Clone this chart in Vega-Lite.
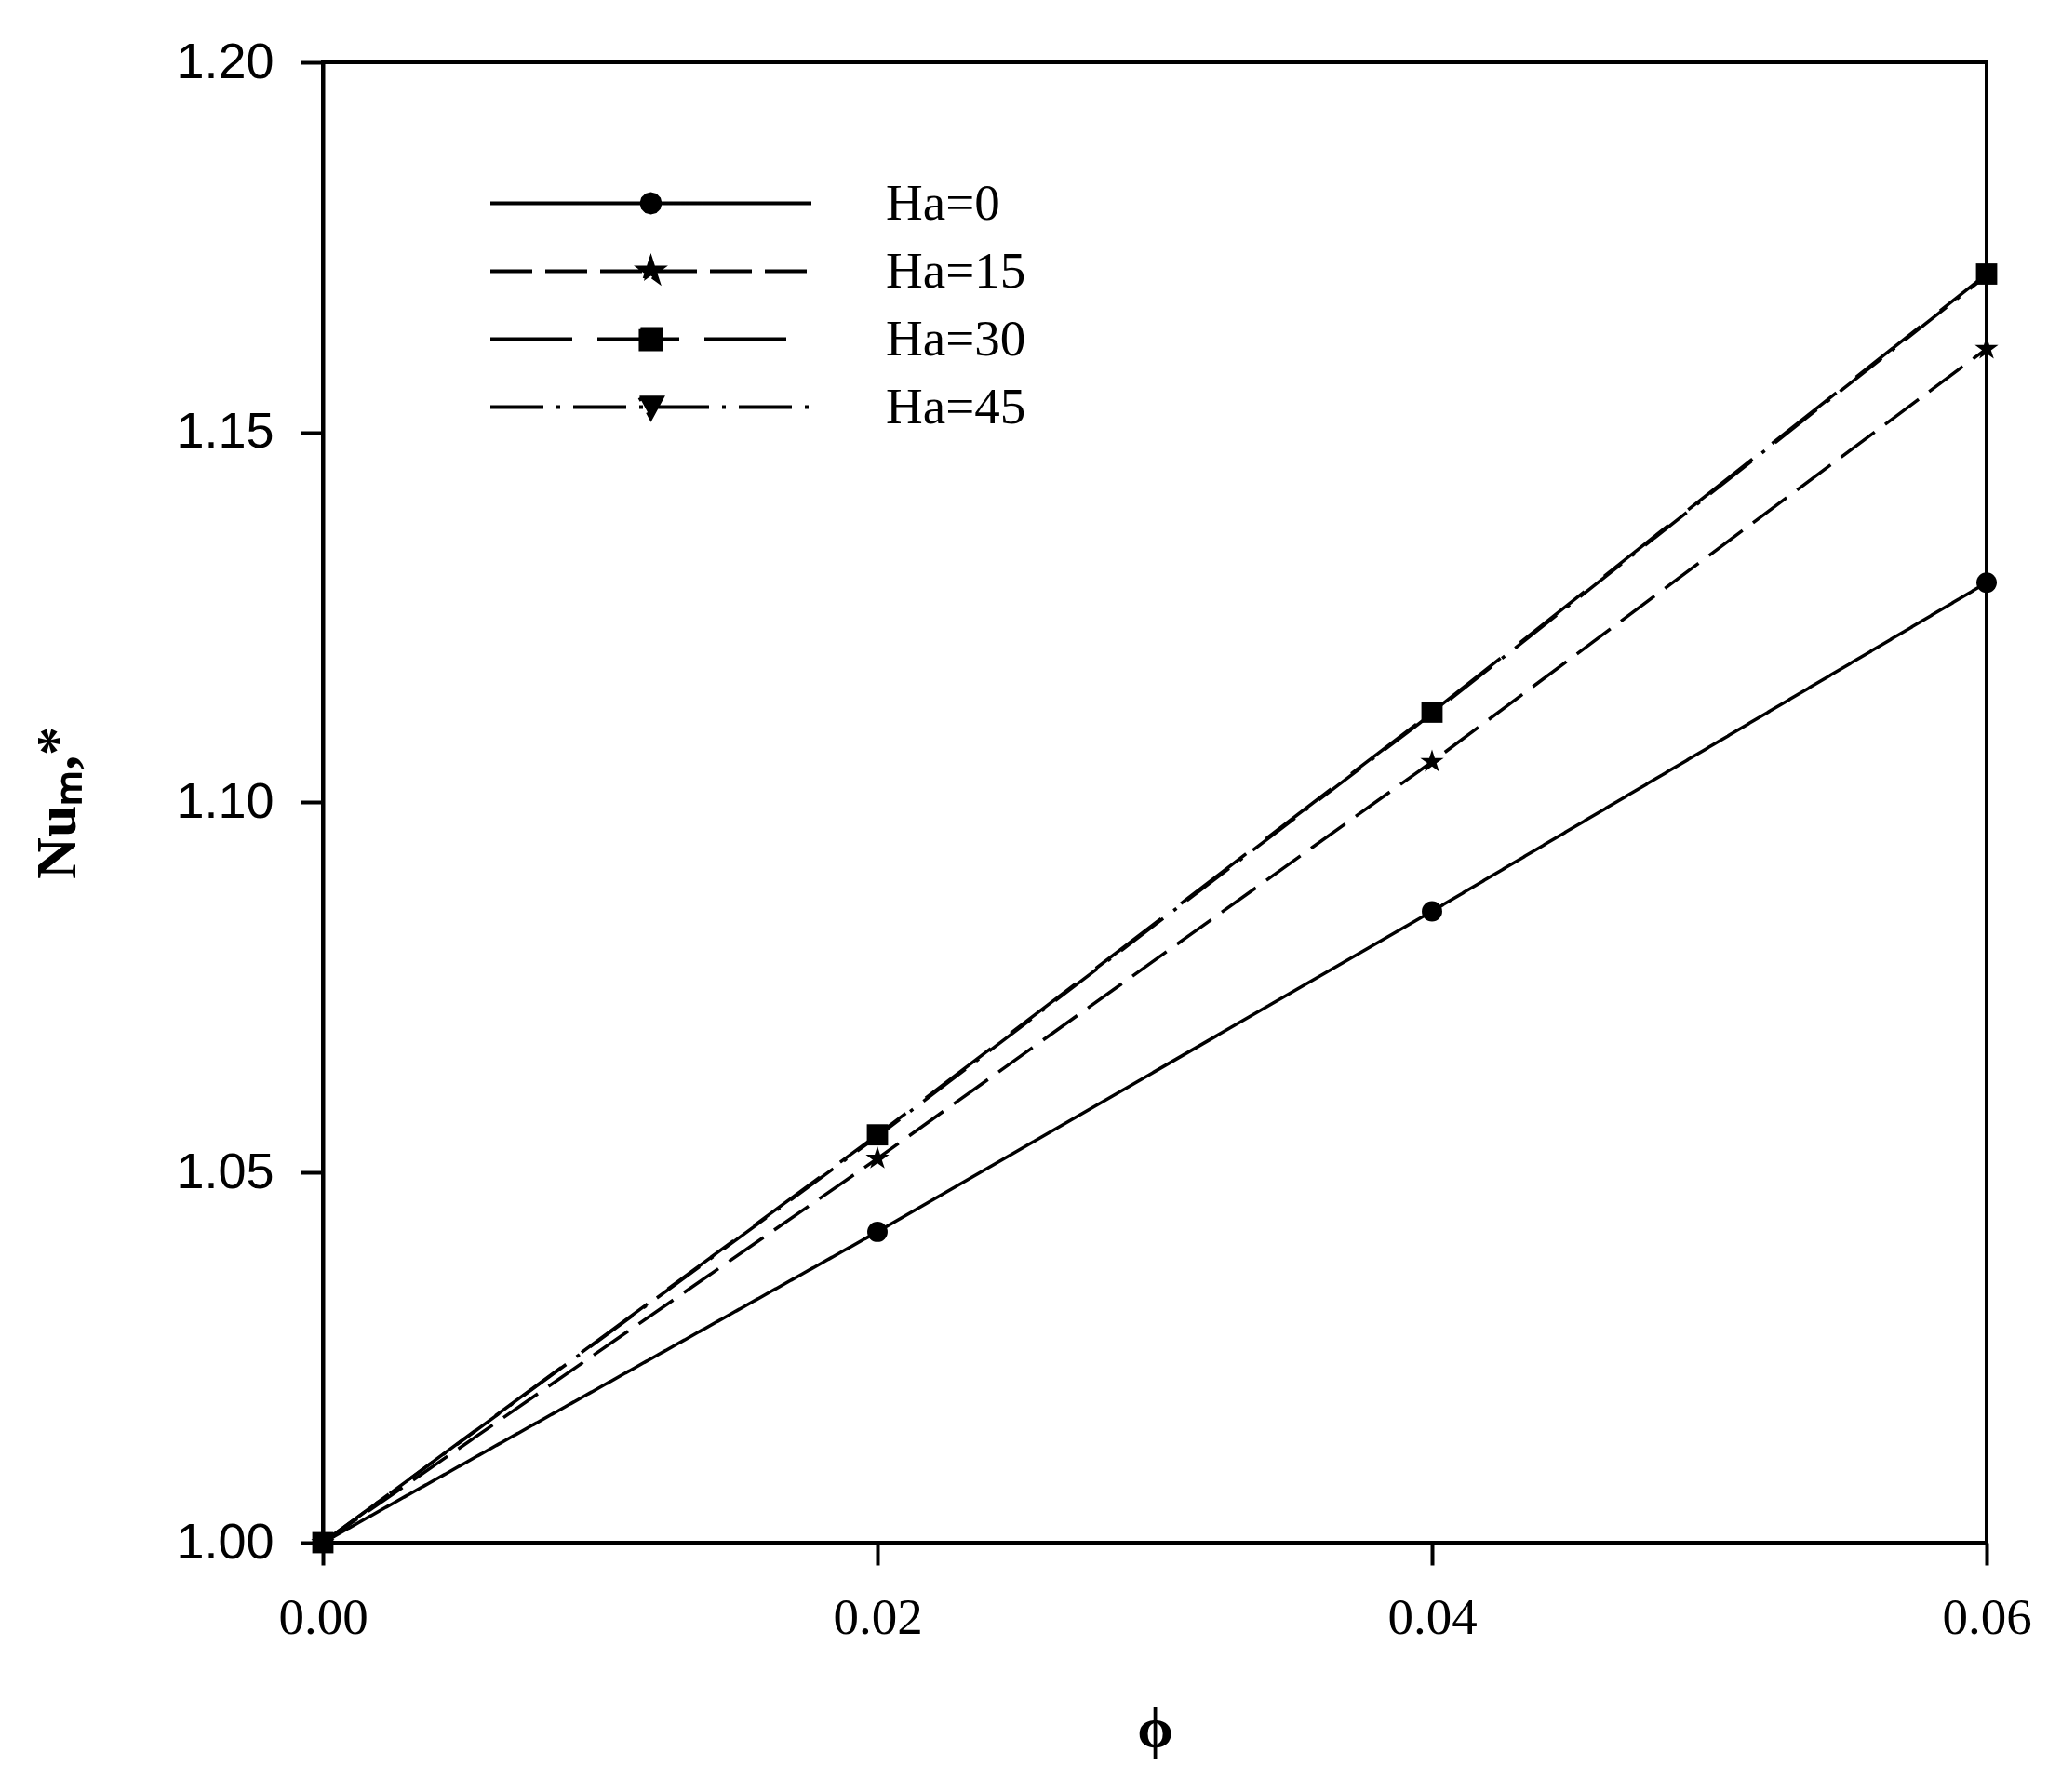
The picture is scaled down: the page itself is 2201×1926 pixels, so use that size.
{
  "$schema": "https://vega.github.io/schema/vega-lite/v6.json",
  "autosize": {"type": "none"},
  "width": 1788,
  "height": 1591,
  "padding": {"left": 347, "top": 67, "right": 66, "bottom": 268},
  "background": "white",
  "config": {
    "view": {"stroke": "black", "strokeWidth": 4},
    "axis": {
      "domainColor": "black", "domainWidth": 4,
      "tickColor": "black", "tickWidth": 4, "tickSize": 24,
      "grid": false, "labelColor": "black", "titleColor": "black"
    }
  },
  "data": {"values": [
    {"series": "Ha=45", "phi": 0.00, "nu": 1.000},
    {"series": "Ha=45", "phi": 0.02, "nu": 1.0549},
    {"series": "Ha=45", "phi": 0.04, "nu": 1.1120},
    {"series": "Ha=45", "phi": 0.06, "nu": 1.1712},
    {"series": "Ha=0", "phi": 0.00, "nu": 1.000},
    {"series": "Ha=0", "phi": 0.02, "nu": 1.0420},
    {"series": "Ha=0", "phi": 0.04, "nu": 1.0853},
    {"series": "Ha=0", "phi": 0.06, "nu": 1.1297},
    {"series": "Ha=15", "phi": 0.00, "nu": 1.000},
    {"series": "Ha=15", "phi": 0.02, "nu": 1.0519},
    {"series": "Ha=15", "phi": 0.04, "nu": 1.1055},
    {"series": "Ha=15", "phi": 0.06, "nu": 1.1613},
    {"series": "Ha=30", "phi": 0.00, "nu": 1.000},
    {"series": "Ha=30", "phi": 0.02, "nu": 1.0551},
    {"series": "Ha=30", "phi": 0.04, "nu": 1.1122},
    {"series": "Ha=30", "phi": 0.06, "nu": 1.1714}
  ]},
  "encoding": {
    "x": {
      "field": "phi", "type": "quantitative",
      "scale": {"domain": [0, 0.06], "nice": false, "zero": false},
      "axis": {
        "values": [0, 0.02, 0.04, 0.06], "format": ".2f",
        "labelFont": "Liberation Serif", "labelFontSize": 55, "labelPadding": 30,
        "labelFlush": false,
        "title": "ϕ", "titleFont": "Liberation Serif", "titleFontWeight": "bold",
        "titleFontSize": 62, "titlePadding": 62
      }
    },
    "y": {
      "field": "nu", "type": "quantitative",
      "scale": {"domain": [1.0, 1.2], "nice": false, "zero": false},
      "axis": {
        "values": [1.0, 1.05, 1.1, 1.15, 1.2], "format": ".2f",
        "labelFont": "Liberation Sans", "labelFontSize": 54, "labelPadding": 29,
        "labelFlush": false,
        "title": "Nuₘ,*", "titleFont": "Liberation Serif", "titleFontWeight": "bold",
        "titleFontSize": 62, "titlePadding": 95
      }
    }
  },
  "layer": [
    {
      "mark": {"type": "line", "color": "black", "strokeWidth": 3.5},
      "encoding": {
        "detail": {"field": "series"},
        "strokeDash": {
          "field": "series", "type": "nominal",
          "scale": {
            "domain": ["Ha=0", "Ha=15", "Ha=30", "Ha=45"],
            "range": [[1, 0], [45, 14], [88, 27], [57, 14, 4, 14]]
          },
          "legend": {
            "title": null,
            "orient": "none",
            "legendX": 178,
            "legendY": 115,
            "padding": 0,
            "rowPadding": 0,
            "clipHeight": 73,
            "symbolSize": 119025,
            "symbolStrokeWidth": 4,
            "symbolStrokeColor": "black",
            "symbolFillColor": "black",
            "symbolOpacity": 1,
            "labelOffset": 78,
            "labelFont": "Liberation Serif",
            "labelFontSize": 55,
            "labelColor": "black",
            "labelLimit": 0,
            "encoding": {
              "symbols": {
                "shape": {"value": {"expr": "datum.value == 'Ha=0' ? 'M-1,0H1M0.058,0L0.0502,0.029L0.029,0.0502L0,0.058L-0.029,0.0502L-0.0502,0.029L-0.058,0L-0.0502,-0.029L-0.029,-0.0502L0,-0.058L0.029,-0.0502L0.0502,-0.029Z' : datum.value == 'Ha=15' ? 'M-1,0H1M0,-0.075L0.0169,-0.0232L0.0713,-0.0232L0.0273,0.0089L0.0441,0.0607L0,0.0287L-0.0441,0.0607L-0.0273,0.0089L-0.0713,-0.0232L-0.0169,-0.0232Z' : datum.value == 'Ha=30' ? 'M-1,0H1M-0.064,-0.064H0.064V0.064H-0.064Z' : 'M-1,0H1M-0.07,-0.06H0.07L0,0.07Z'"}},
                "fill": {"value": "black"},
                "stroke": {"value": "black"},
                "strokeWidth": {"value": 4}
              }
            }
          }
        }
      }
    },
    {
      "transform": [{"filter": "datum.series == 'Ha=45'"}],
      "mark": {"type": "point", "filled": true, "color": "black", "opacity": 1, "size": 450, "shape": "triangle-down"}
    },
    {
      "transform": [{"filter": "datum.series == 'Ha=0'"}],
      "mark": {"type": "point", "filled": true, "color": "black", "opacity": 1, "size": 480, "shape": "circle"}
    },
    {
      "transform": [{"filter": "datum.series == 'Ha=15'"}],
      "mark": {"type": "point", "filled": true, "color": "black", "opacity": 1, "size": 450, "shape": "M0,-1.25L0.28,-0.386L1.189,-0.386L0.454,0.148L0.735,1.011L0,0.478L-0.735,1.011L-0.454,0.148L-1.189,-0.386L-0.28,-0.386Z"}
    },
    {
      "transform": [{"filter": "datum.series == 'Ha=30'"}],
      "mark": {"type": "point", "filled": true, "color": "black", "opacity": 1, "size": 520, "shape": "square"}
    }
  ]
}
